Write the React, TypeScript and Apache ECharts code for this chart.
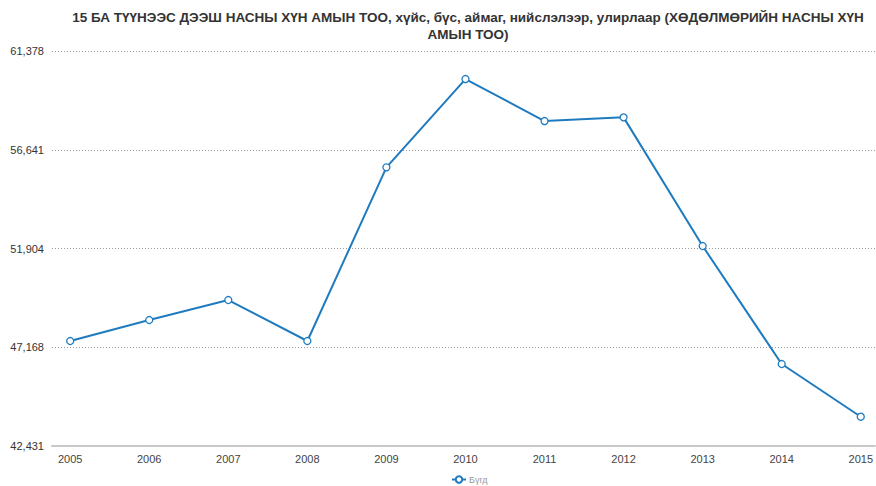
import React, { useEffect, useRef } from "react";
import * as echarts from "echarts";

const years = [2005, 2006, 2007, 2008, 2009, 2010, 2011, 2012, 2013, 2014, 2015];
const totalValues = [47467, 48474, 49433, 47467, 55798, 60032, 58018, 58195, 52023, 46364, 43836];
const yTickLabels = ["42,431", "47,168", "51,904", "56,641", "61,378"];
const seriesName = "Бүгд";
const titleText =
  "15 БА ТҮҮНЭЭС ДЭЭШ НАСНЫ ХҮН АМЫН ТОО, хүйс, бүс, аймаг, нийслэлээр, улирлаар (ХӨДӨЛМӨРИЙН НАСНЫ ХҮН\nАМЫН ТОО)";

export default function App() {
  const ref = useRef<HTMLDivElement>(null);
  useEffect(() => {
    if (!ref.current) return;
    const chart = echarts.init(ref.current, null, { renderer: "svg" });
    const yMin = 42431;
    const yMax = 61378;
    chart.setOption({
      animation: false,
      backgroundColor: "#ffffff",
      title: {
        text: titleText,
        left: 463,
        textAlign: "center",
        top: 4,
        textStyle: {
          fontFamily: "Liberation Sans",
          fontSize: 13.5,
          fontWeight: "bold",
          color: "#333333",
          lineHeight: 17,
        },
      },
      legend: {
        bottom: -3,
        left: 446,
        itemWidth: 14,
        itemHeight: 8,
        itemGap: 4,
        textStyle: { fontFamily: "Liberation Sans", fontSize: 9, color: "#999999", padding: [0, 0, 0, -2] },
        data: [seriesName],
      },
      grid: { left: 52, right: 0, top: 51, bottom: 40, containLabel: false },
      xAxis: {
        type: "value",
        min: 2004.77,
        max: 2015.18,
        splitNumber: 10,
        minInterval: 1,
        maxInterval: 1,
        axisLine: { show: true, lineStyle: { color: "#c8c8c8", width: 2 } },
        axisTick: { show: false },
        splitLine: { show: false },
        axisLabel: {
          showMinLabel: false,
          showMaxLabel: false,
          formatter: (v: number) => (Number.isInteger(v) ? String(v) : ""),
          color: "#444444",
          fontFamily: "Liberation Sans",
          fontSize: 11,
          margin: 7,
        },
      },
      yAxis: {
        type: "value",
        min: yMin,
        max: yMax,
        interval: (yMax - yMin) / 4,
        axisLine: { show: false },
        axisTick: { show: false },
        splitLine: { show: true, lineStyle: { color: "#999999", type: [1, 2], width: 1 } },
        axisLabel: {
          formatter: (_v: number, i: number) => yTickLabels[i],
          color: "#333333",
          fontFamily: "Liberation Sans",
          fontSize: 11,
          margin: 8,
        },
      },
      series: [
        {
          name: seriesName,
          type: "line",
          data: years.map((y, i) => [y, totalValues[i]]),
          symbol: "circle",
          symbolSize: 7,
          lineStyle: { color: "#1f7bbf", width: 2 },
          itemStyle: { color: "#ffffff", borderColor: "#1f7bbf", borderWidth: 1.3 },
        },
      ],
    });
    return () => chart.dispose();
  }, []);
  return <div ref={ref} style={{ width: 876, height: 486, position: "absolute", left: 0, top: 0 }} />;
}
